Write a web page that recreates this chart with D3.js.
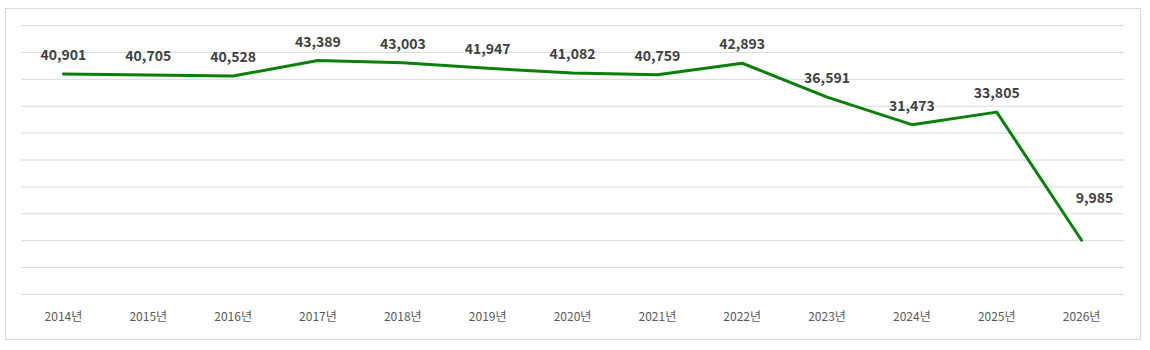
<!DOCTYPE html>
<html>
<head>
<meta charset="utf-8">
<script src="https://cdn.jsdelivr.net/npm/d3@7"></script>
<style>
  html, body { margin: 0; padding: 0; background: #ffffff; }
  svg { display: block; }
</style>
</head>
<body>
<svg id="chart" width="1150" height="350"></svg>
<script>
// Annual counts, 2014–2026
const years = ["2014년", "2015년", "2016년", "2017년", "2018년", "2019년", "2020년",
               "2021년", "2022년", "2023년", "2024년", "2025년", "2026년"];
const values = [40901, 40705, 40528, 43389, 43003, 41947, 41082,
                40759, 42893, 36591, 31473, 33805, 9985];
const gridTicks = [0, 5000, 10000, 15000, 20000, 25000, 30000, 35000, 40000, 45000, 50000];

const svg = d3.select("#chart");
const font = "'Noto Sans CJK KR', 'Noto Sans', sans-serif";

// outer frame
svg.append("rect")
  .attr("x", 5.5).attr("y", 8.5)
  .attr("width", 1135).attr("height", 331)
  .attr("fill", "#ffffff")
  .attr("stroke", "#d9d9d9").attr("stroke-width", 1);

const plot = { left: 21, right: 1124, top: 25, bottom: 294 };

const x = d3.scaleBand().domain(years).range([plot.left, plot.right]);
const y = d3.scaleLinear().domain([0, 50000]).range([plot.bottom, plot.top]);

// horizontal gridlines
svg.append("g")
  .attr("transform", `translate(${plot.left},0)`)
  .call(d3.axisLeft(y).tickValues(gridTicks).tickSize(-(plot.right - plot.left)).tickFormat(""))
  .call(g => g.select(".domain").remove())
  .call(g => g.selectAll(".tick line").attr("stroke", "#d9d9d9").attr("stroke-width", 1));

// category axis
svg.append("g")
  .attr("transform", `translate(0,${plot.bottom})`)
  .call(d3.axisBottom(x).tickSize(0).tickPadding(18))
  .call(g => g.select(".domain").remove())
  .call(g => g.selectAll(".tick text")
    .attr("fill", "#595959")
    .style("font-family", font)
    .style("font-size", "12px"));

const cx = d => x(d) + x.bandwidth() / 2;

// series line
const line = d3.line()
  .x((d, i) => cx(years[i]))
  .y(d => y(d));

svg.append("path")
  .datum(values)
  .attr("d", line)
  .attr("fill", "none")
  .attr("stroke", "#0a800a")
  .attr("stroke-width", 3)
  .attr("stroke-linejoin", "round")
  .attr("stroke-linecap", "round");

// data labels (the last one sits up and to the right of its point)
const labelOffset = (i) => i === values.length - 1 ? [13, -43] : [0, -20];
const fmt = d3.format(",");

svg.append("g")
  .selectAll("text")
  .data(values)
  .join("text")
  .attr("x", (d, i) => cx(years[i]) + labelOffset(i)[0])
  .attr("y", (d, i) => y(d) + labelOffset(i)[1])
  .attr("text-anchor", "middle")
  .attr("dominant-baseline", "central")
  .attr("fill", "#404040")
  .style("font-family", font)
  .style("font-size", "14px")
  .style("font-weight", "bold")
  .text(d => fmt(d));
</script>
</body>
</html>
